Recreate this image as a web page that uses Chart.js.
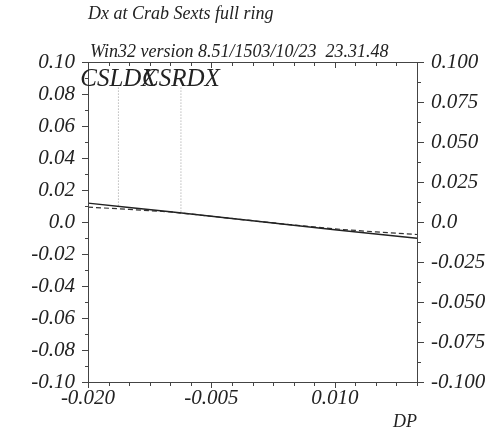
<!DOCTYPE html>
<html>
<head>
<meta charset="utf-8">
<script src="https://cdn.jsdelivr.net/npm/chart.js@4.4.0/dist/chart.umd.min.js"></script>
<style>
  html, body { margin: 0; padding: 0; background: #fff; }
  canvas { display: block; }
</style>
</head>
<body>
<canvas id="c" width="499" height="436"></canvas>
<script>
// Momentum offset DP and horizontal dispersion Dx at the crab sextupoles
const dp       = [-0.020, -0.015, -0.010, -0.005, 0.000, 0.005, 0.010, 0.015, 0.020];
const dxSolid  = [0.0118, 0.0091, 0.0064, 0.0036, 0.0008, -0.0020, -0.0048, -0.0075, -0.0102];
const dxDashed = [0.0093, 0.0079, 0.0063, 0.0036, 0.0008, -0.0019, -0.0043, -0.0062, -0.0078];

// Element markers
const markerNames  = ['CSLDX', 'CSRDX'];
const markerDp     = [-0.0163, -0.0087];
const markerBottom = [0.0100, 0.0059];
const markerTop    = 0.084;

// Tick labels
const xTickLabels     = ['-0.020', '-0.005', '0.010'];
const leftTickLabels  = ['-0.10', '-0.08', '-0.06', '-0.04', '-0.02', '0.0', '0.02', '0.04', '0.06', '0.08', '0.10'];
const rightTickLabels = ['-0.100', '-0.075', '-0.050', '-0.025', '0.0', '0.025', '0.050', '0.075', '0.100'];

const titleText   = 'Dx at Crab Sexts full ring';
const versionText = 'Win32 version 8.51/1503/10/23  23.31.48';
const xAxisTitle  = 'DP';

const FONT = '"Liberation Serif", "DejaVu Serif", serif';
const INK = '#222';

Chart.defaults.font.family = FONT;
Chart.defaults.font.style = 'italic';
Chart.defaults.font.size = 21;
Chart.defaults.color = INK;

function stepTicks(min, max, step) {
  const out = [];
  const n = Math.round((max - min) / step);
  for (let k = 0; k <= n; k++) out.push({ value: min + k * step });
  return out;
}

const xMinorStep = 0.0025, leftMinorStep = 0.01, rightMinorStep = 0.0125;
const tickFont = { family: FONT, style: 'italic', size: 21, weight: 'normal' };

const frameAndTicks = {
  id: 'frameAndTicks',
  afterDraw(chart) {
    const { ctx, chartArea: a, scales } = chart;
    ctx.save();
    ctx.strokeStyle = '#444';
    ctx.lineWidth = 1;
    ctx.beginPath();
    ctx.rect(Math.round(a.left) + 0.5, Math.round(a.top) + 0.5,
             Math.round(a.right - a.left), Math.round(a.bottom - a.top));
    // x ticks: outward on the bottom, inward on the top
    scales.x.ticks.forEach(t => {
      const p = Math.round(scales.x.getPixelForValue(t.value)) + 0.5;
      const len = t.label ? 6 : 4;
      ctx.moveTo(p, Math.round(a.bottom)); ctx.lineTo(p, Math.round(a.bottom) + len);
      ctx.moveTo(p, Math.round(a.top)); ctx.lineTo(p, Math.round(a.top) + len);
    });
    scales.y.ticks.forEach(t => {
      const p = Math.round(scales.y.getPixelForValue(t.value)) + 0.5;
      const len = t.label ? 6 : 3;
      ctx.moveTo(Math.round(a.left), p); ctx.lineTo(Math.round(a.left) - len, p);
    });
    scales.y2.ticks.forEach(t => {
      const p = Math.round(scales.y2.getPixelForValue(t.value)) + 0.5;
      const len = t.label ? 6 : 3;
      ctx.moveTo(Math.round(a.right) + 1, p); ctx.lineTo(Math.round(a.right) + 1 + len, p);
    });
    ctx.stroke();

    // texts
    ctx.fillStyle = INK;
    ctx.font = 'italic 18px ' + FONT;
    ctx.textAlign = 'left';
    ctx.textBaseline = 'alphabetic';
    ctx.fillText(titleText, 88, 19);
    ctx.fillText(versionText, 90, 57);
    ctx.textAlign = 'right';
    ctx.fillText(xAxisTitle, 417, 427);

    // marker names centred on their lines
    ctx.font = 'italic 25px ' + FONT;
    ctx.textAlign = 'center';
    markerNames.forEach((name, i) => {
      const px = scales.x.getPixelForValue(markerDp[i]);
      ctx.fillText(name, px, 86);
    });
    ctx.restore();
  }
};

const datasets = [
  {
    data: dp.map((x, i) => ({ x, y: dxSolid[i] })),
    borderColor: '#222', borderWidth: 1.4, pointRadius: 0, showLine: true, yAxisID: 'y'
  },
  {
    data: dp.map((x, i) => ({ x, y: dxDashed[i] })),
    borderColor: '#333', borderWidth: 1.2, borderDash: [5, 3], pointRadius: 0, showLine: true, yAxisID: 'y'
  }
];
markerDp.forEach((x, i) => {
  datasets.push({
    data: [{ x, y: markerTop }, { x, y: markerBottom[i] }],
    borderColor: '#999', borderWidth: 1, borderDash: [1, 2], pointRadius: 0, showLine: true, yAxisID: 'y'
  });
});

new Chart(document.getElementById('c'), {
  type: 'scatter',
  data: { datasets },
  options: {
    responsive: false,
    devicePixelRatio: 1,
    animation: false,
    layout: { padding: { top: 62, left: 0, right: 0, bottom: 0 } },
    plugins: { legend: { display: false }, tooltip: { enabled: false } },
    scales: {
      x: {
        type: 'linear', position: 'bottom', min: -0.02, max: 0.02,
        grid: { display: false, drawTicks: false }, border: { display: false },
        afterBuildTicks: s => { s.ticks = stepTicks(-0.02, 0.02, xMinorStep); },
        afterFit: s => { s.height = 54; },
        ticks: {
          autoSkip: false, maxRotation: 0, padding: 4, color: INK, font: tickFont,
          callback: (v, i) => (i % 6 === 0 ? (xTickLabels[i / 6] || '') : '')
        }
      },
      y: {
        type: 'linear', position: 'left', min: -0.1, max: 0.1,
        grid: { display: false, drawTicks: false }, border: { display: false },
        afterBuildTicks: s => { s.ticks = stepTicks(-0.1, 0.1, leftMinorStep); },
        afterFit: s => { s.width = 88; },
        ticks: {
          autoSkip: false, padding: 13, color: INK, font: tickFont,
          callback: (v, i) => (i % 2 === 0 ? (leftTickLabels[i / 2] || '') : '')
        }
      },
      y2: {
        type: 'linear', position: 'right', min: -0.1, max: 0.1,
        grid: { display: false, drawTicks: false }, border: { display: false },
        afterBuildTicks: s => { s.ticks = stepTicks(-0.1, 0.1, rightMinorStep); },
        afterFit: s => { s.width = 82; },
        ticks: {
          autoSkip: false, padding: 14, color: INK, font: tickFont,
          callback: (v, i) => (i % 2 === 0 ? (rightTickLabels[i / 2] || '') : '')
        }
      }
    }
  },
  plugins: [frameAndTicks]
});
</script>
</body>
</html>
